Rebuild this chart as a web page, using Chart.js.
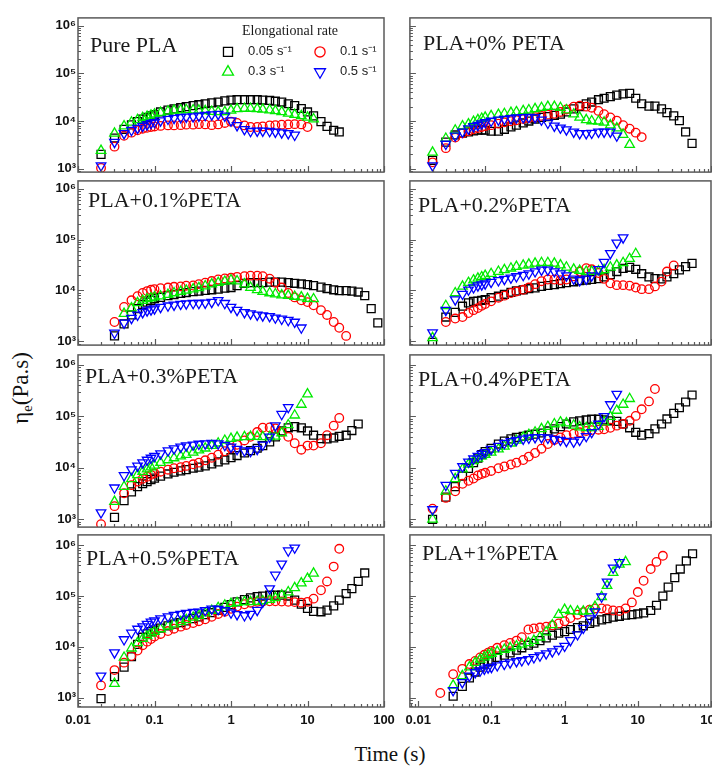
<!DOCTYPE html>
<html>
<head>
<meta charset="utf-8">
<title>Transient elongational viscosity of PLA / PETA blends</title>
<script src="https://cdn.jsdelivr.net/npm/chart.js@4.4.1/dist/chart.umd.min.js"></script>
<style>
  html, body { margin: 0; padding: 0; background: #fff; overflow: hidden; width: 712px; height: 772px; }
  #wrap { position: relative; width: 712px; height: 772px; }
  #wrap canvas { position: absolute; }
  .ytitle { position: absolute; left: 22px; top: 388px; transform: translate(-50%, -50%) rotate(-90deg);
            font: 23px "Liberation Serif", "Times New Roman", serif; color: #111; white-space: nowrap; }
  .ytitle sub { font-size: 65%; vertical-align: -0.25em; }
  .xtitle { position: absolute; left: 390px; top: 754px; transform: translate(-50%, -50%);
            font: 21px "Liberation Serif", "Times New Roman", serif; color: #111; white-space: nowrap; }
</style>
</head>
<body>
<div id="wrap">
  <div class="ytitle">η<sub>e</sub>(Pa.s)</div>
  <div class="xtitle">Time (s)</div>
</div>
<script>
// ---- sampling times (s) shared by every curve ----
const TIME = [0.02,0.03,0.04,0.05,0.06,0.07,0.08,0.09,0.1,0.12,0.15,0.18,0.22,0.26,0.32,0.38,0.46,0.56,0.68,0.83,
              1,1.2,1.5,1.8,2.2,2.6,3.2,3.8,4.6,5.6,6.8,8.3,10,12,15,18,22,26,32,38,46,56,68,83];

const RATES = ['0.05 s⁻¹', '0.1 s⁻¹', '0.3 s⁻¹', '0.5 s⁻¹'];
const PANEL_TITLES = ['Pure PLA', 'PLA+0% PETA', 'PLA+0.1%PETA', 'PLA+0.2%PETA',
                      'PLA+0.3%PETA', 'PLA+0.4%PETA', 'PLA+0.5%PETA', 'PLA+1%PETA'];
const X_TICKS = [0.01, 0.1, 1, 10, 100];
const X_TICK_LABELS = ['0.01', '0.1', '1', '10', '100'];
const Y_TICKS = [1e3, 1e4, 1e5, 1e6];
const Y_TICK_LABELS = ['10³', '10⁴', '10⁵', '10⁶'];

// ---- elongational viscosity (Pa.s) at TIME[i]; null = no sample ----
const PURE_PLA_005 = [2000,4400,6700,8300,9700,11000,11900,12800,13600,15500,17000,18000,19000,20000,21000,22000,23000,24000,25000,26500,27500,28000,28000,28000,28000,27500,27000,26000,25000,23000,21000,18300,15500,12800,9700,7700,6400,5900];
const PURE_PLA_01  = [1040,2900,4900,5700,6400,6900,7200,7500,7700,7900,8100,8100,8200,8400,8400,8600,8500,8200,8500,9100,9700,9100,8100,7500,7500,7700,8100,8200,8400,8500,8600,8500,7500];
const PURE_PLA_03  = [2400,5500,7800,9400,10600,11700,12400,13200,13900,15000,16000,16700,17000,17200,17000,16700,16300,15800,15500,15500,16700,18000,18300,18300,18000,17500,17000,16300,15500,14500,13600,12800,11900,11000];
const PURE_PLA_05  = [1160,3600,5500,6400,7100,7800,8400,9000,9400,10200,11000,11500,11900,12200,12400,12800,13200,13600,13900,12800,10200,8100,6700,6100,6200,6200,6100,5900,5700,5500,5100];

const PETA0_005 = [1500,3600,5100,5600,5900,6200,6400,6500,6400,6100,6100,6700,7500,8200,9100,10000,11000,11900,12400,13200,13900,15500,18000,20000,23000,25000,28000,30000,32500,35000,37000,38000,30000,23000,20500,20500,18000,15000,12800,10200,5900,3400];
const PETA0_01  = [1360,2700,4500,5500,6100,6700,7100,7500,7800,8200,8800,9400,9900,10400,11000,11500,12000,12800,13600,14200,15500,17500,20000,21000,20000,19000,16300,13900,11900,10200,8200,6900,5700,4600];
const PETA0_03  = [2200,4300,6400,7800,8600,9700,10600,11300,11900,12800,13600,14200,15000,15500,16300,17000,18000,19000,20000,20000,19000,17000,13900,11900,10600,10000,9900,9400,8200,7100,5200,3200];
const PETA0_05  = [1160,3300,4900,5900,6900,7700,8200,8800,9400,10000,10600,11000,11300,11700,11900,12000,11900,10600,9100,7900,7200,6600,5900,5500,5500,5600,5900,5900,5900,4900];

const PETA01_005 = [null,1280,2200,3300,4400,5300,5900,6400,6900,7300,7900,8300,8700,9100,9500,9700,10000,10300,10600,11100,11400,12400,13800,14200,14200,14200,14600,14600,14600,14200,13800,13400,13000,12400,11600,10900,10300,9900,9900,9700,9300,7900,4400,2300];
const PETA01_01  = [null,2400,4750,6400,7700,8900,9700,10300,10600,11100,11400,11800,12000,12400,12500,13300,14200,15300,16400,17200,17700,18500,19000,19500,19500,19000,17000,14200,11400,8900,7300,6400,5900,5100,4100,3300,2400,1850,1280];
const PETA01_03  = [null,null,3500,4500,5700,6300,6800,7100,7400,7700,8300,8900,9500,10000,10600,11200,12200,13300,14200,15000,16000,15300,13300,11400,10300,9500,8900,8500,8100,7900,7600,7400,6900,6800];
const PETA01_05  = [null,1460,2300,2850,3300,3700,4000,4200,4400,4700,5000,5200,5400,5500,5600,5600,5700,5900,6400,5600,4700,4100,3700,3500,3300,3200,3100,2900,2750,2600,2400,1850];

const PETA02_005 = [960,3000,3700,4900,5700,6100,6200,6400,6600,7200,7700,8400,9200,9800,10300,10800,11200,12000,12500,13000,13600,14200,14800,15500,15900,16400,17100,18400,20500,23500,27000,28500,26000,21300,18400,17100,16900,18400,21300,25400,29400,34000];
const PETA02_01  = [null,2400,2800,3000,3600,4100,4500,5000,5400,6100,7200,7900,8900,9500,10300,11400,13300,15200,16400,16400,15900,16400,19000,23500,27300,26000,22000,16900,13800,12700,12700,12400,11400,10600,10600,12000,14900,23500,31000];
const PETA02_03  = [1170,5000,8900,12000,14200,15900,17300,18400,19500,21300,23500,25400,27300,29400,31000,32500,34000,35000,35000,34000,31500,28500,26000,24500,23500,23500,24000,25400,28500,31500,35000,42000,52500];
const PETA02_05  = [1480,4100,6600,8500,10300,11400,12400,13000,13600,14600,15700,16700,17700,18800,19900,21300,23500,25400,25400,23500,21300,19500,16900,15700,16900,19500,26000,36000,53500,86000,109000];

const PETA03_005 = [null,1090,2300,3400,4300,4900,5400,5900,6300,6900,7600,8200,8700,9200,9800,10300,10900,11900,13000,14200,15700,17300,19400,21500,24000,27000,32000,40000,52000,60000,63000,60000,52000,43000,37000,36500,38000,41000,43000,53000,71000];
const PETA03_01  = [800,1800,3200,4600,5400,6100,6700,7300,7800,8400,9200,9800,10300,10900,11700,12600,14000,15700,18000,21000,24000,28000,34000,40000,49500,60000,61000,58000,50000,40000,30000,22500,27000,27000,30000,43000,66000,93000];
const PETA03_03  = [null,2200,4300,6100,7300,8400,9400,10300,11200,12600,14200,15500,16800,18000,20000,22000,24000,27000,30000,34000,37000,39000,40000,40500,40500,40000,40000,41000,47500,68000,105000,170000,270000];
const PETA03_05  = [1350,4100,7100,9200,10900,12600,14200,15500,16800,18900,21500,23600,25500,27000,28000,29000,29500,30000,29500,27500,25500,23000,21500,21000,23000,28000,40000,66000,110000,150000];

const PETA04_005 = [1000,2700,4300,6900,9700,12600,15500,18000,20700,24000,29000,33000,36500,39000,41000,43000,45000,47500,52000,57000,63000,71000,78000,82000,85000,88000,88000,85000,82000,80000,71000,60000,49000,43000,46000,57000,71000,89000,114000,147000,190000,260000];
const PETA04_01  = [1600,2600,3500,4900,5600,6200,7100,7600,8000,8700,9800,10600,11600,12600,14200,16500,19400,23500,29000,34600,39000,43000,46000,49000,52000,54000,55000,56000,60000,66000,71000,82000,102000,137000,195000,340000];
const PETA04_03  = [1000,3500,6100,9400,11700,13600,15200,16800,18000,20000,23000,26000,30000,34000,39000,44000,49000,57000,63000,71000,77000,74000,67000,62000,60000,60000,63000,77000,99000,130000,170000,220000];
const PETA04_05  = [1550,4600,7900,10600,13000,15000,16800,18500,20000,23000,26500,30000,32500,34600,36500,38000,39000,39000,38000,36000,34600,33000,32000,34600,41000,49000,71000,100000,170000,270000];

const PETA05_005 = [960,2600,4000,6400,11200,15500,18000,20000,21500,23500,26000,28000,30000,32500,36000,39000,43000,47000,53000,60000,68000,77000,85000,92000,98000,100000,104000,104000,104000,100000,83000,69000,57000,50000,49000,53000,64000,83000,112000,140000,194000,285000];
const PETA05_01  = [1750,3500,4900,6600,8500,10800,12700,14300,16000,18000,20500,22800,25000,27000,29500,32000,35000,39000,44500,49000,56000,62000,69000,74000,77000,78000,79000,79000,78000,77000,76000,74000,77000,89000,130000,194000,380000,850000];
const PETA05_03  = [null,1900,6200,9400,12000,14500,16500,18500,20000,22500,25500,28000,31000,34000,38000,41500,46000,52000,59000,66000,71000,74000,77000,77000,78000,80000,85000,92000,104000,120000,145000,180000,220000,280000];
const PETA05_05  = [2700,7700,14000,18800,22500,25000,28000,31000,33000,36000,39500,42000,44000,46000,48000,49000,52500,56000,55000,52000,47000,43500,41500,44000,53000,77000,140000,260000,430000,780000,890000];

const PETA1_005 = [null,1070,1670,2450,3200,4000,4600,5100,5500,6200,6900,7600,8600,9600,10800,11800,13300,15000,17000,18700,20000,22000,24000,26000,29000,31000,34000,36000,38500,40000,42000,43000,44500,46500,52000,66000,100000,150000,230000,340000,490000,680000];
const PETA1_01  = [1240,2900,3700,4600,5300,6200,7000,7700,8300,9600,10800,12000,13300,15500,22000,23000,24000,25000,26500,29000,32000,37000,43000,48000,54000,57000,57000,55000,52000,51000,57000,75000,120000,200000,340000,470000,620000];
const PETA1_03  = [null,1750,2700,4000,4900,5700,6300,7000,7400,8100,8900,9600,10400,11200,12000,13300,15500,19600,27000,43000,54000,51000,50000,50000,51000,62000,97000,160000,290000,420000,470000];
const PETA1_05  = [null,1400,2000,2700,3150,3400,3700,3900,4000,4300,4600,4900,5200,5400,5700,6200,6700,7400,8100,9000,10400,13400,17500,23500,36000,49500,97000,190000,360000,460000];

// series order inside each panel follows RATES
const PANEL_SERIES = [
  [PURE_PLA_005, PURE_PLA_01, PURE_PLA_03, PURE_PLA_05],
  [PETA0_005, PETA0_01, PETA0_03, PETA0_05],
  [PETA01_005, PETA01_01, PETA01_03, PETA01_05],
  [PETA02_005, PETA02_01, PETA02_03, PETA02_05],
  [PETA03_005, PETA03_01, PETA03_03, PETA03_05],
  [PETA04_005, PETA04_01, PETA04_03, PETA04_05],
  [PETA05_005, PETA05_01, PETA05_03, PETA05_05],
  [PETA1_005, PETA1_01, PETA1_03, PETA1_05]
];

// ---- styling and layout ----
const SANS = '"Liberation Sans", Arial, sans-serif';
const SERIF = '"Liberation Serif", "Times New Roman", serif';
const SERIES_STYLE = [
  { color: '#000000', pointStyle: 'rect',     radius: 5.6, rotation: 0 },
  { color: '#ff0000', pointStyle: 'circle',   radius: 4.3, rotation: 0 },
  { color: '#00ea00', pointStyle: 'triangle', radius: 5.5, rotation: 0 },
  { color: '#0000ff', pointStyle: 'triangle', radius: 5.5, rotation: 180 }
];
const FRAME_COLOR = '#5a5a5a';
const COLS = [{ left: 78, width: 306, padL: 44 }, { left: 405, width: 306, padL: 2 }];
const ROWS = [
  { top: 15,  bottom: 175, yExp: [2.929, 6.162] },
  { top: 178, bottom: 348, yExp: [2.926, 6.152] },
  { top: 352, bottom: 530, yExp: [2.848, 6.194] },
  { top: 532, bottom: 707, yExp: [2.818, 6.203] }
];
const X_EXP = [[-2, 2], [-2, 2], [-2, 2], [-2, 2], [-2, 2], [-2, 2], [-2, 2], [-2.114, 2]];
const TITLE_OFFSET = [[12, 34], [13, 32], [10, 26], [8, 31], [7, 28], [8, 31], [8, 30], [12, 25]];
const LEGEND = {
  title: { text: 'Elongational rate', x: 212, y: 17 },
  items: [{ x: 150, y: 34 }, { x: 242, y: 34 }, { x: 150, y: 54 }, { x: 242, y: 54 }],
  textGap: 20
};

function drawMarker(ctx, style, x, y, r) {
  ctx.save();
  ctx.strokeStyle = style.color;
  ctx.fillStyle = 'rgba(0,0,0,0)';
  ctx.lineWidth = 1.3;
  Chart.helpers.drawPoint(ctx, { pointStyle: style.pointStyle, rotation: style.rotation, radius: r, borderWidth: 1.3 }, x, y);
  ctx.restore();
}

// frame, inward log ticks, panel caption and (first panel) legend
const panelDecor = {
  id: 'panelDecor',
  afterDatasetsDraw(chart, args, opts) {
    const { ctx, chartArea: a } = chart;
    const xs = chart.scales.x, ys = chart.scales.y;
    ctx.save();
    ctx.strokeStyle = FRAME_COLOR;
    ctx.lineWidth = 1.2;
    ctx.beginPath();
    [[xs, true], [ys, false]].forEach(([s, horiz]) => {
      const lo = Math.floor(Math.log10(s.min)), hi = Math.ceil(Math.log10(s.max));
      for (let d = lo; d <= hi; d++) {
        for (let m = 1; m <= 9; m++) {
          const v = m * Math.pow(10, d);
          if (v < s.min || v > s.max) continue;
          const p = Math.round(s.getPixelForValue(v)) + 0.5;
          const len = m === 1 ? 6 : 3;
          if (horiz) { ctx.moveTo(p, a.bottom); ctx.lineTo(p, a.bottom - len); }
          else { ctx.moveTo(a.left, p); ctx.lineTo(a.left + len, p); }
        }
      }
    });
    ctx.stroke();
    ctx.lineWidth = 1.5;
    ctx.strokeRect(a.left, a.top, a.width, a.height);

    ctx.fillStyle = '#1a1a1a';
    ctx.font = '22px ' + SERIF;
    ctx.textAlign = 'left';
    ctx.textBaseline = 'alphabetic';
    ctx.fillText(opts.title, a.left + opts.dx, a.top + opts.dy);

    if (opts.legend) {
      ctx.font = '14px ' + SERIF;
      ctx.textAlign = 'center';
      ctx.fillText(LEGEND.title.text, a.left + LEGEND.title.x, a.top + LEGEND.title.y);
      ctx.font = '13px ' + SANS;
      ctx.textAlign = 'left';
      ctx.textBaseline = 'middle';
      LEGEND.items.forEach((it, k) => {
        const st = SERIES_STYLE[k];
        drawMarker(ctx, st, a.left + it.x, a.top + it.y, st.radius + 0.8);
        ctx.fillStyle = '#222';
        ctx.fillText(RATES[k], a.left + it.x + LEGEND.textGap, a.top + it.y);
      });
    }
    ctx.restore();
  }
};

Chart.defaults.font.family = SANS;
const wrap = document.getElementById('wrap');

PANEL_TITLES.forEach((title, i) => {
  const col = COLS[i % 2];
  const rowIdx = Math.floor(i / 2);
  const row = ROWS[rowIdx];
  const isBottom = rowIdx === ROWS.length - 1;
  const isLeft = i % 2 === 0;
  const padT = 4, padR = 14, padB = isBottom ? 32 : 4;
  const W = col.padL + col.width + padR;
  const H = padT + (row.bottom - row.top) + padB;

  const canvas = document.createElement('canvas');
  canvas.width = W; canvas.height = H;
  canvas.style.width = W + 'px'; canvas.style.height = H + 'px';
  canvas.style.left = (col.left - col.padL) + 'px';
  canvas.style.top = (row.top - padT) + 'px';
  wrap.appendChild(canvas);

  const datasets = PANEL_SERIES[i].map((vals, k) => {
    const st = SERIES_STYLE[k];
    return {
      label: RATES[k],
      data: vals.map((v, j) => (v == null ? null : { x: TIME[j], y: v })).filter(Boolean),
      showLine: false,
      pointStyle: st.pointStyle,
      pointRotation: st.rotation,
      pointRadius: st.radius,
      pointBorderWidth: 1.3,
      pointBorderColor: st.color,
      pointBackgroundColor: 'rgba(0,0,0,0)',
      borderColor: st.color,
      backgroundColor: 'rgba(0,0,0,0)',
      order: 3 - k
    };
  });

  const tickFont = { family: SANS, size: 13, weight: 'bold' };
  new Chart(canvas, {
    type: 'scatter',
    data: { datasets },
    options: {
      responsive: false,
      animation: false,
      devicePixelRatio: 1,
      events: [],
      layout: { padding: { top: padT, right: padR, left: 0, bottom: 0 } },
      plugins: {
        legend: { display: false },
        tooltip: { enabled: false },
        panelDecor: { title, dx: TITLE_OFFSET[i][0], dy: TITLE_OFFSET[i][1], legend: i === 0 }
      },
      scales: {
        x: {
          type: 'logarithmic',
          min: Math.pow(10, X_EXP[i][0]),
          max: Math.pow(10, X_EXP[i][1]),
          afterBuildTicks(s) { s.ticks = X_TICKS.filter(v => v >= s.min && v <= s.max * 1.0001).map(v => ({ value: v })); },
          afterFit(s) { s.height = padB; s.paddingLeft = 0; s.paddingRight = 0; },
          ticks: {
            display: isBottom, autoSkip: false, maxRotation: 0, padding: 6, color: '#111', font: tickFont,
            callback: v => X_TICK_LABELS[X_TICKS.indexOf(v)]
          },
          grid: { display: false, drawTicks: false },
          border: { display: false }
        },
        y: {
          type: 'logarithmic',
          min: Math.pow(10, row.yExp[0]),
          max: Math.pow(10, row.yExp[1]),
          afterBuildTicks(s) { s.ticks = Y_TICKS.filter(v => v >= s.min && v <= s.max).map(v => ({ value: v })); },
          afterFit(s) { s.width = col.padL; s.paddingTop = 0; s.paddingBottom = 0; },
          ticks: {
            display: isLeft, autoSkip: false, padding: 2, color: '#111', font: tickFont,
            callback: v => Y_TICK_LABELS[Y_TICKS.indexOf(v)]
          },
          grid: { display: false, drawTicks: false },
          border: { display: false }
        }
      }
    },
    plugins: [panelDecor]
  });
});
</script>
</body>
</html>
